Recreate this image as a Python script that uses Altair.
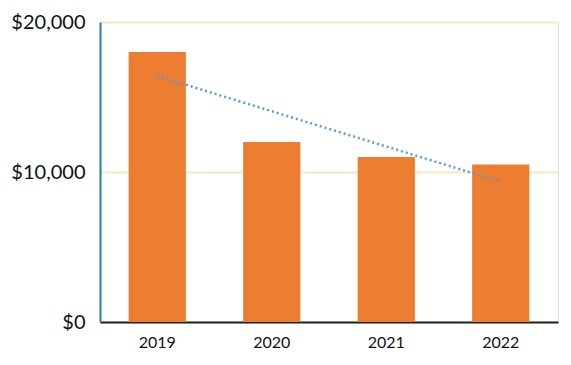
import altair as alt
import pandas as pd

years = [2019, 2020, 2021, 2022]
values = [18000, 12000, 11000, 10500]

df = pd.DataFrame({"year": years, "value": values})

base = alt.Chart(df)

x_enc = alt.X(
    "year:O",
    title=None,
    scale=alt.Scale(paddingInner=0.5, paddingOuter=0.25),
    axis=alt.Axis(
        labelAngle=0,
        labelFont="Lato",
        labelFontSize=16,
        labelColor="#111111",
        labelPadding=12,
        ticks=False,
        domainColor="#222222",
        domainWidth=2,
        grid=False,
    ),
)

bars = base.mark_bar(color="#ED7D31").encode(
    x=x_enc,
    y=alt.Y(
        "value:Q",
        title=None,
        scale=alt.Scale(domain=[0, 20000], nice=False),
        axis=alt.Axis(
            values=[0, 10000, 20000],
            format="$,.0f",
            labelFont="Lato",
            labelFontSize=20,
            labelColor="#111111",
            labelPadding=15,
            ticks=False,
            domainColor="#2a7f9e",
            domainWidth=2,
            gridColor="#f3eac0",
            gridWidth=2,
        ),
    ),
)

trend = (
    base.transform_regression("year", "value")
    .mark_line(color="#5b9bd5", strokeDash=[2, 3], strokeWidth=2.5)
    .encode(x=alt.X("year:O"), y=alt.Y("value:Q"))
)

chart = (
    alt.layer(bars, trend)
    .properties(
        width=458,
        height=300,
        autosize=alt.AutoSizeParams(type="none"),
        padding={"left": 92, "top": 14, "right": 5, "bottom": 35},
    )
    .configure_view(stroke=None)
    .configure(background="white")
)

chart.save("out.html", embed_options={"renderer": "svg", "actions": False})
